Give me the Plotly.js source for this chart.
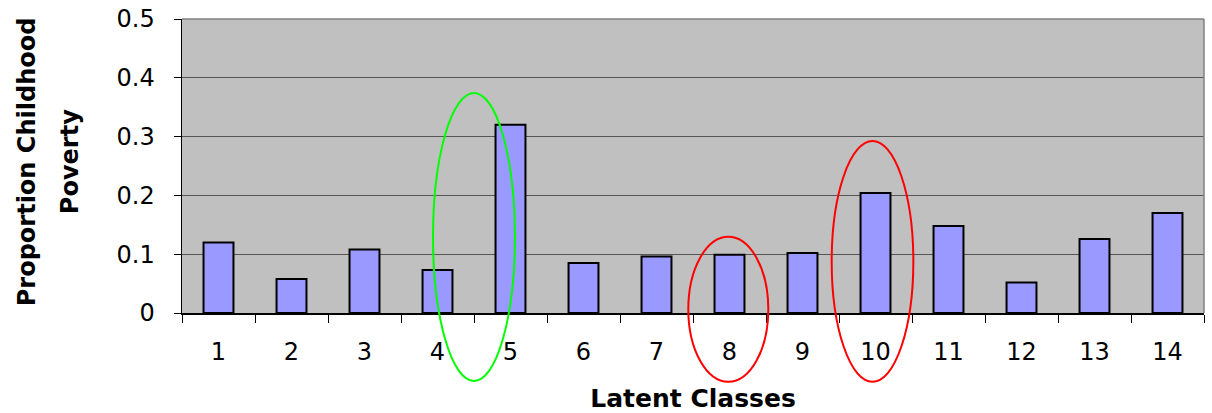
<!DOCTYPE html>
<html>
<head>
<meta charset="utf-8">
<script src="https://cdn.plot.ly/plotly-3.0.1.min.js"></script>
<style>
html,body{margin:0;padding:0;background:#fff;}
#chart{width:1212px;height:413px;}
</style>
</head>
<body>
<div id="chart"></div>
<script>
var classes = ['1','2','3','4','5','6','7','8','9','10','11','12','13','14'];
var proportions = [0.12, 0.058, 0.108, 0.073, 0.32, 0.085, 0.096, 0.099, 0.102, 0.204, 0.148, 0.052, 0.126, 0.17];
var yTicks = [0, 0.1, 0.2, 0.3, 0.4, 0.5];
var yTickText = ['0', '0.1', '0.2', '0.3', '0.4', '0.5'];
var xTitle = 'Latent Classes';
var yTitleLines = ['Proportion Childhood', 'Poverty'];

var trace = {
  type: 'bar',
  x: classes,
  y: proportions,
  marker: {color: '#9999FF', line: {color: '#000000', width: 2}},
  hoverinfo: 'x+y'
};

var tickFont = {family: 'DejaVu Sans, Arial, sans-serif', size: 24, color: '#000'};
var titleFont = {family: 'DejaVu Sans, Arial, sans-serif', size: 25, color: '#000', weight: 'bold'};

var layout = {
  width: 1212, height: 413,
  margin: {l: 182, r: 8, t: 19, b: 100, pad: 0},
  paper_bgcolor: '#ffffff',
  plot_bgcolor: '#C0C0C0',
  showlegend: false,
  bargap: 0.59,
  xaxis: {
    type: 'category',
    tickson: 'boundaries',
    ticks: 'outside', ticklen: 8, tickwidth: 1, tickcolor: '#000',
    showline: true, linecolor: '#000', linewidth: 1.5,
    showgrid: false, zeroline: false,
    tickfont: tickFont,
    ticklabelstandoff: 17,
    title: {text: xTitle, font: titleFont, standoff: 24}
  },
  yaxis: {
    range: [0, 0.5],
    tickvals: yTicks, ticktext: yTickText,
    ticks: 'outside', ticklen: 7, tickwidth: 1, tickcolor: '#000',
    showline: true, linecolor: '#000', linewidth: 1.5,
    showgrid: true, gridcolor: '#555555', gridwidth: 1,
    zeroline: false,
    tickfont: tickFont,
    ticklabelstandoff: 14,
    fixedrange: true
  },
  annotations: [
    {text: yTitleLines[0], xref: 'paper', yref: 'paper', x: -0.152, y: 0.515,
     xanchor: 'center', yanchor: 'middle', textangle: -90, showarrow: false,
     font: {family: 'DejaVu Sans, Arial, sans-serif', size: 24, color: '#000', weight: 'bold'}},
    {text: yTitleLines[1], xref: 'paper', yref: 'paper', x: -0.110, y: 0.515,
     xanchor: 'center', yanchor: 'middle', textangle: -90, showarrow: false,
     font: {family: 'DejaVu Sans, Arial, sans-serif', size: 24, color: '#000', weight: 'bold'}}
  ],
  shapes: [
    {type: 'line', xref: 'paper', yref: 'paper', x0: 0, x1: 1, y0: 1, y1: 1,
     line: {color: '#808080', width: 1.5}, layer: 'above'},
    {type: 'line', xref: 'paper', yref: 'paper', x0: 1, x1: 1, y0: 0, y1: 1,
     line: {color: '#808080', width: 1.5}, layer: 'above'},
    {type: 'circle', xref: 'x domain', yref: 'y domain',
     x0: 0.2456, x1: 0.3258, y0: -0.231, y1: 0.748,
     line: {color: '#00FF00', width: 2}, layer: 'above'},
    {type: 'circle', xref: 'x domain', yref: 'y domain',
     x0: 0.4954, x1: 0.5737, y0: -0.234, y1: 0.2595,
     line: {color: '#FF0000', width: 2}, layer: 'above'},
    {type: 'circle', xref: 'x domain', yref: 'y domain',
     x0: 0.6357, x1: 0.7156, y0: -0.234, y1: 0.585,
     line: {color: '#FF0000', width: 2}, layer: 'above'}
  ]
};

Plotly.newPlot('chart', [trace], layout, {displayModeBar: false, staticPlot: true});
</script>
</body>
</html>
